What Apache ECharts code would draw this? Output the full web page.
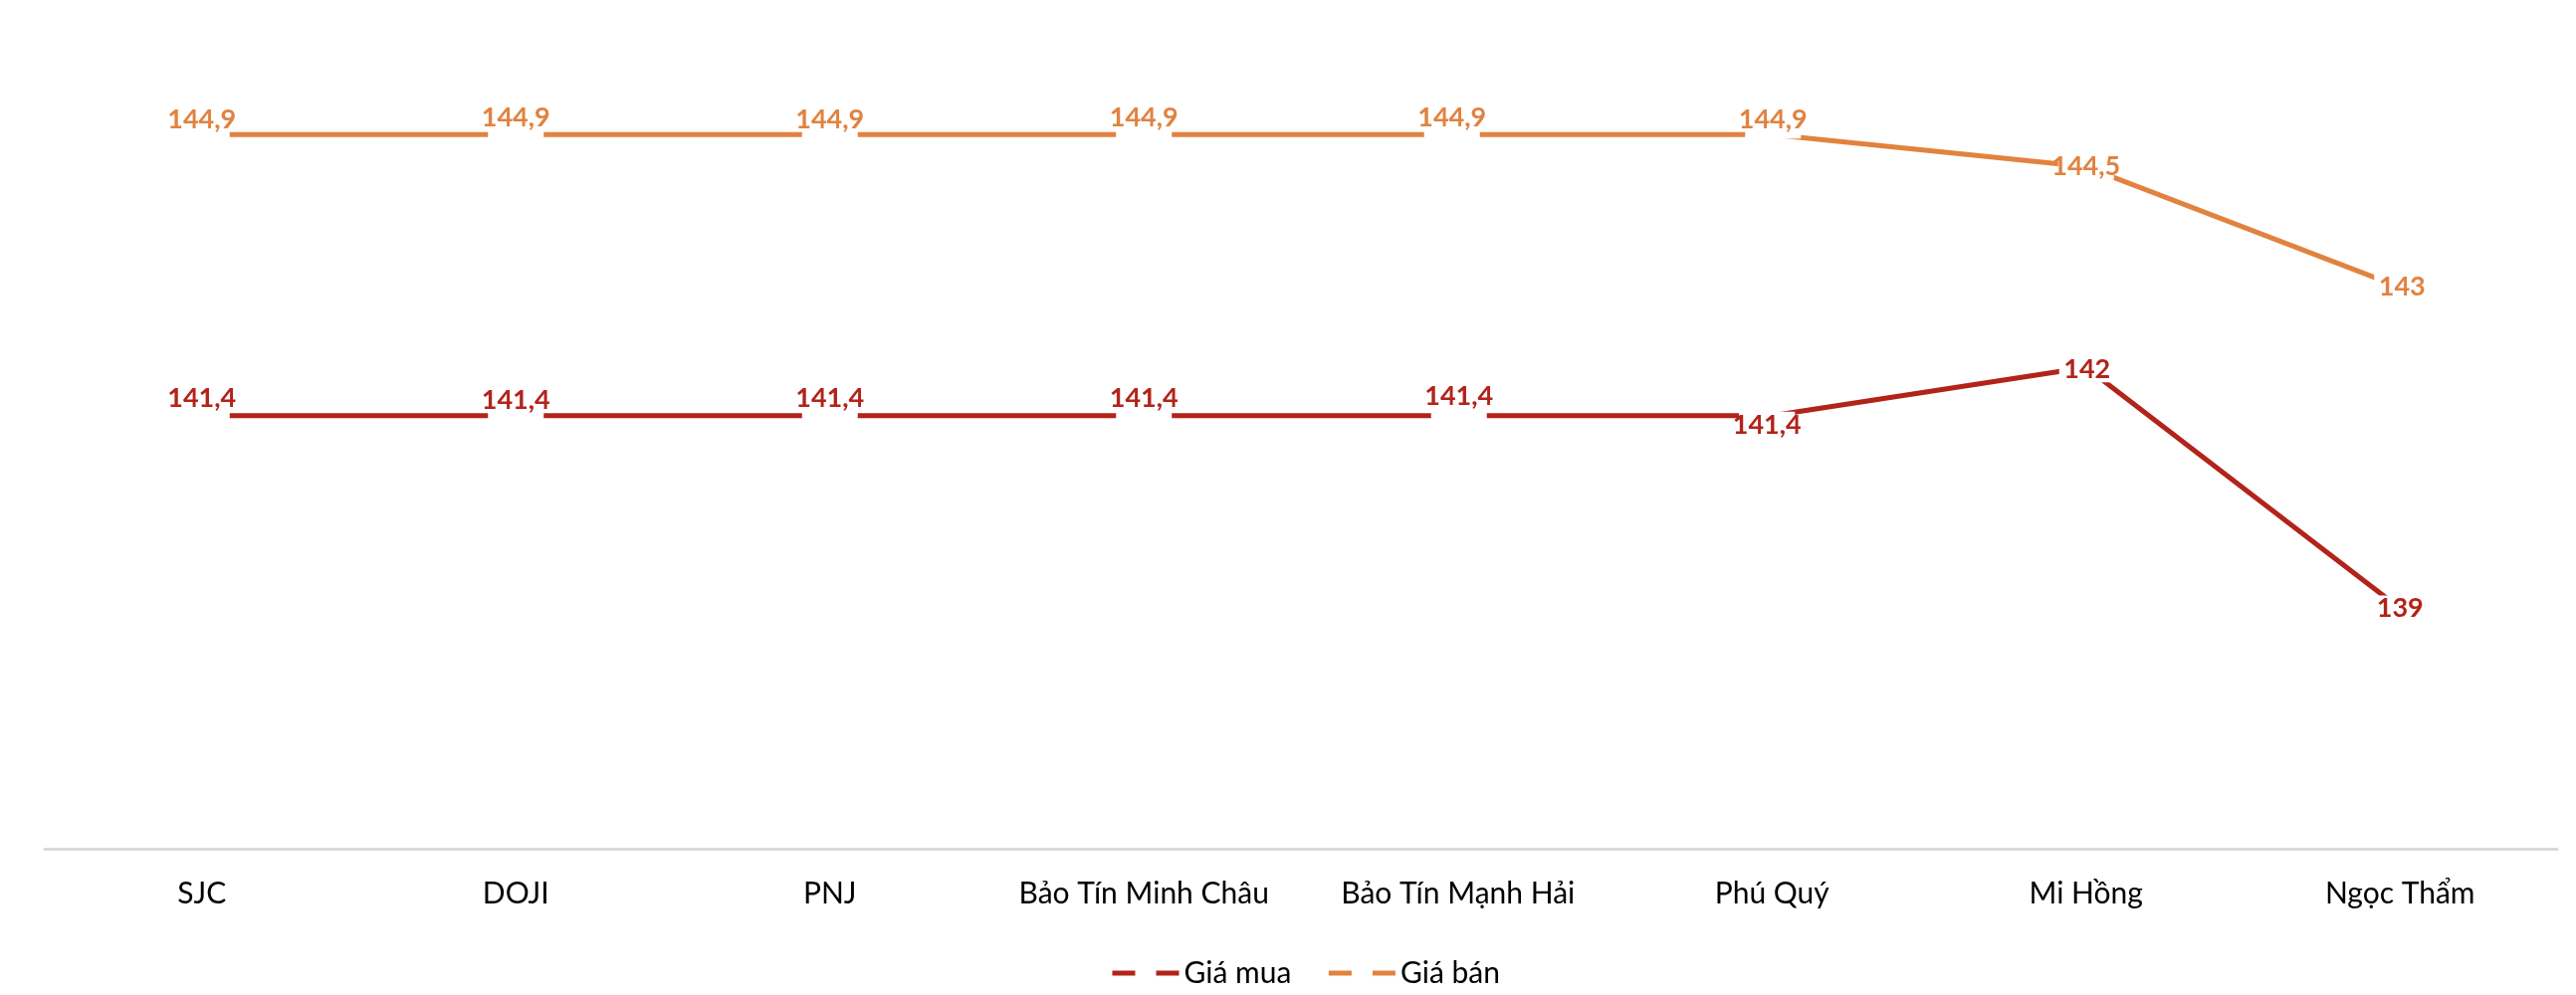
<!DOCTYPE html>
<html>
<head>
<meta charset="utf-8">
<script src="https://cdn.jsdelivr.net/npm/echarts@6/dist/echarts.min.js"></script>
<style>
html,body{margin:0;padding:0;background:#fff;}
#chart{width:2588px;height:1000px;}
</style>
</head>
<body>
<div id="chart"></div>
<script>
// ---- data ----
var categories = ['SJC', 'DOJI', 'PNJ', 'Bảo Tín Minh Châu', 'Bảo Tín Mạnh Hải', 'Phú Quý', 'Mi Hồng', 'Ngọc Thẩm'];
var seriesNames = ['Giá mua', 'Giá bán'];
var buyValues = [141.4, 141.4, 141.4, 141.4, 141.4, 141.4, 142, 139];
var sellValues = [144.9, 144.9, 144.9, 144.9, 144.9, 144.9, 144.5, 143];

// ---- label placement (text centre relative to point, px) ----
var buyLabelDy = [-25.5, -22, -25, -25.5, -29, 9.5, 2, 0];
var buyLabelDx = [0, 0, 0, 0, 1, -5, 1, 0];
var sellLabelDy = [-20, -24, -20, -24, -25.5, -20.5, 0, 0];
var sellLabelDx = [0, 0, 0, 0, -6, 1, 0, 2];

var RED = '#B2231A';
var ORANGE = '#E2823F';
var FONT = 'Lato, "Open Sans", "DejaVu Sans", sans-serif';
var LH = 26;

function fmt(v) { return String(v).replace('.', ','); }

function buildData(values, dys, dxs, color) {
  return values.map(function (v, i) {
    var dy = dys[i], dx = dxs[i];
    var top = Math.min(dy - LH / 2, -4);
    var bottom = Math.max(dy + LH / 2, 4);
    var pt = (dy - LH / 2) - top;
    var pb = bottom - (dy + LH / 2);
    return {
      value: v,
      label: {
        show: true,
        position: 'inside',
        offset: [dx, (top + bottom) / 2],
        padding: [pt, 0, pb, 0],
        width: 56,
        overflow: 'none',
        align: 'center',
        verticalAlign: 'middle',
        lineHeight: LH,
        backgroundColor: '#ffffff',
        color: color,
        fontFamily: FONT,
        fontWeight: 'bold',
        fontSize: 27,
        formatter: function () { return fmt(v); }
      }
    };
  });
}

var chart = echarts.init(document.getElementById('chart'));
chart.setOption({
  animation: false,
  backgroundColor: '#ffffff',
  grid: { left: 45, right: 19, top: 46.5, bottom: 146.5 },
  legend: {
    data: seriesNames,
    left: 1110,
    top: 958,
    itemWidth: 67,
    itemHeight: 30,
    itemGap: 35,
    textStyle: { fontFamily: FONT, fontSize: 30, color: '#000' },
    itemStyle: { opacity: 0 },
    lineStyle: { type: [23, 21], width: 5 }
  },
  xAxis: {
    type: 'category',
    data: categories,
    boundaryGap: true,
    axisLine: { show: true, lineStyle: { color: '#D9D9D9', width: 3 } },
    axisTick: { show: false },
    axisLabel: { color: '#000', fontFamily: FONT, fontSize: 30, lineHeight: 30, margin: 30, interval: 0 },
    splitLine: { show: false }
  },
  yAxis: {
    type: 'value',
    min: 136,
    max: 146,
    show: false,
    splitLine: { show: false }
  },
  series: [
    {
      name: seriesNames[0],
      type: 'line',
      data: buildData(buyValues, buyLabelDy, buyLabelDx, RED),
      symbol: 'circle',
      symbolSize: 0,
      showSymbol: true,
      itemStyle: { color: RED },
      lineStyle: { color: RED, width: 5 },
      emphasis: { disabled: true }
    },
    {
      name: seriesNames[1],
      type: 'line',
      data: buildData(sellValues, sellLabelDy, sellLabelDx, ORANGE),
      symbol: 'circle',
      symbolSize: 0,
      showSymbol: true,
      itemStyle: { color: ORANGE },
      lineStyle: { color: ORANGE, width: 5 },
      emphasis: { disabled: true }
    }
  ]
});
</script>
</body>
</html>
